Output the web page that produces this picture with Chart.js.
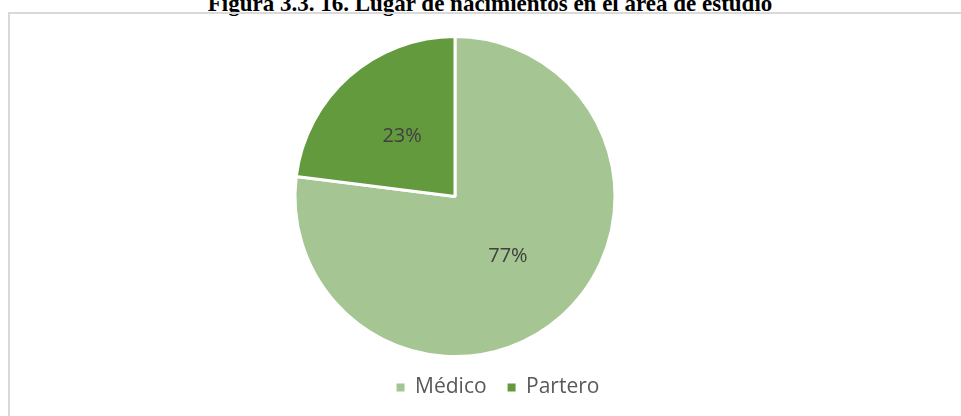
<!DOCTYPE html>
<html>
<head>
<meta charset="utf-8">
<script src="https://cdn.jsdelivr.net/npm/chart.js@4.4.1/dist/chart.umd.min.js"></script>
<style>
  html, body { margin: 0; padding: 0; background: #fff; overflow: hidden; }
  body { width: 961px; height: 416px; position: relative; }
  #titulo {
    position: absolute; left: 0; width: 980px; top: -8px;
    text-align: center; font-family: "Liberation Serif", "Times New Roman", serif;
    font-weight: bold; font-size: 23px; line-height: 23px; color: #000;
  }
  #marco {
    position: absolute; left: 8px; top: 12px; width: 980px; height: 420px;
    border-top: 2px solid #d9d9d9; border-left: 2px solid #d9d9d9;
  }
  #caja { position: absolute; left: 10px; top: 13px; width: 951px; height: 403px; }
</style>
</head>
<body>
<div id="titulo">Figura 3.3. 16. Lugar de nacimientos en el área de estudio</div>
<div id="marco"></div>
<div id="caja"><canvas id="myChart"></canvas></div>
<script>
const categorias = ['Médico', 'Partero'];
const porcentajes = [77, 23];
const colores = ['#a5c592', '#629a3d'];

// etiquetas de porcentaje dentro de cada sector
const etiquetasPct = {
    id: 'etiquetasPct',
    afterDatasetsDraw(chart) {
        const ctx = chart.ctx;
        const meta = chart.getDatasetMeta(0);
        ctx.save();
        ctx.font = '20px "Open Sans", sans-serif';
        ctx.fillStyle = '#404040';
        ctx.textAlign = 'center';
        ctx.textBaseline = 'middle';
        meta.data.forEach(function (arc, i) {
            const p = arc.tooltipPosition();
            ctx.fillText(porcentajes[i] + '%', p.x, p.y);
        });
        ctx.restore();
    }
};

// la leyenda del original no esta centrada bajo el pastel
const moverLeyenda = {
    id: 'moverLeyenda',
    afterLayout(chart) {
        chart.legend.left += 43;
        chart.legend.right += 43;
        chart.legend.top -= 2;
        chart.legend.bottom -= 2;
    }
};

window.onload = function () {
    const ctx = document.getElementById('myChart').getContext('2d');
    new Chart(ctx, {
        type: 'pie',
        data: {
            labels: categorias,
            datasets: [{
                data: porcentajes,
                backgroundColor: colores,
                borderColor: '#ffffff',
                borderWidth: 3
            }]
        },
        options: {
            responsive: true,
            maintainAspectRatio: false,
            animation: false,
            layout: { padding: { top: 22, left: 0, right: 61, bottom: 6 } },
            plugins: {
                tooltip: { enabled: false },
                legend: {
                    position: 'bottom',
                    labels: {
                        boxWidth: 8,
                        boxHeight: 8,
                        padding: 21,
                        color: '#595959',
                        font: { family: '"Open Sans", sans-serif', size: 21 },
                        generateLabels(chart) {
                            const items = Chart.overrides.pie.plugins.legend.labels.generateLabels(chart);
                            items.forEach(function (it) { it.lineWidth = 0; it.strokeStyle = it.fillStyle; });
                            return items;
                        }
                    }
                }
            }
        },
        plugins: [etiquetasPct, moverLeyenda]
    });
};
</script>
</body>
</html>
